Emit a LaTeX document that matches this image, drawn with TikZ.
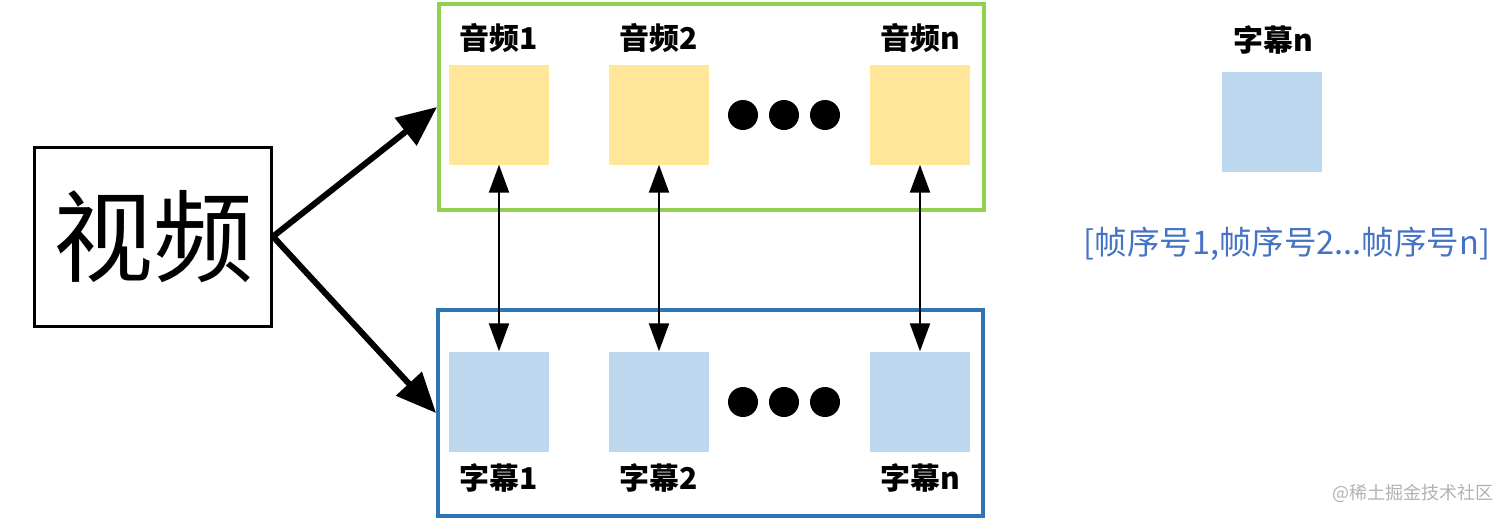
\documentclass[tikz,border=0pt]{standalone}
\usepackage{fontspec}
\setmainfont{Noto Sans CJK SC}
\usetikzlibrary{arrows.meta}

\definecolor{framegreen}{RGB}{146,208,80}
\definecolor{frameblue}{RGB}{46,117,182}
\definecolor{audiofill}{RGB}{255,230,153}
\definecolor{subfill}{RGB}{189,215,238}
\definecolor{listblue}{RGB}{68,114,196}

\begin{document}
\begin{tikzpicture}[x=1pt, y=-1pt,
  tile/.style={minimum width=100pt, minimum height=100pt, inner sep=0pt},
  audio/.style={tile, fill=audiofill},
  sub/.style={tile, fill=subfill},
  frame/.style={line width=4pt, minimum width=545pt, minimum height=206pt, inner sep=0pt},
  lbl/.style={font=\fontsize{30}{36}\selectfont\bfseries, inner sep=0pt},
  dot/.style={circle, fill=black, minimum size=30pt, inner sep=0pt},
  link/.style={{Triangle[length=28pt,width=20pt]}-{Triangle[length=28pt,width=20pt]}, line width=2.2pt},
  split/.style={-{Triangle[length=40pt,width=34pt]}, line width=6pt}]
  \useasboundingbox (0,0) rectangle (1512,520);

  % Frames
  \node[frame, draw=framegreen] (audioframe) at (711.5,107) {};
  \node[frame, draw=frameblue] (subframe) at (710.5,413) {};

  % Video
  \node[draw, line width=3pt, minimum width=237pt, minimum height=179pt,
        font=\fontsize{100}{110}\selectfont] (video) at (153,236.5) {视频};

  % Audio and subtitle tiles
  \foreach \i/\x in {1/499, 2/659, n/920} {
    \node[audio] (a\i) at (\x,114.5) {};
    \node[lbl] (la\i) at (\x,38) {音频\i};
    \node[sub] (s\i) at (\x,401.5) {};
    \node[lbl] (ls\i) at (\x,478) {字幕\i};
    \draw[link] (a\i.south) -- (s\i.north);
  }

  % Dots
  \foreach \x in {743,784,825} {
    \node[dot] (da\x) at (\x,115) {};
    \node[dot] (ds\x) at (\x,402) {};
  }

  \draw[split] (video.east) -- (audioframe.west);
  \draw[split] (video.east) -- (subframe.west);

  % Single subtitle
  \node[lbl] (lone) at (1273,40) {字幕n};
  \node[sub] (one) at (1272,122) {};
  \node[font=\fontsize{32.5}{38}\selectfont, text=listblue, inner sep=0pt] (frames) at (1287,244)
    {[帧序号1,帧序号2...帧序号n]};

  \node[font=\fontsize{18}{22}\selectfont, text=gray!60, inner sep=0pt] (mark) at (1413,493)
    {@稀土掘金技术社区};
\end{tikzpicture}
\end{document}
